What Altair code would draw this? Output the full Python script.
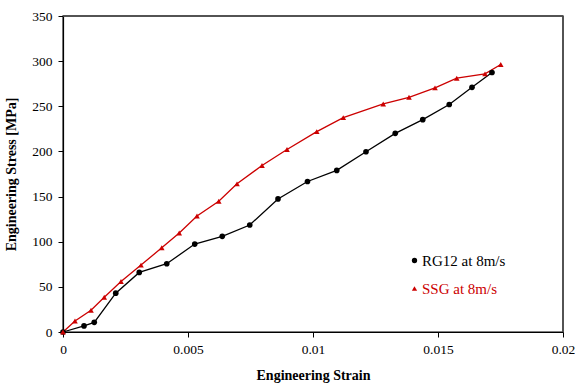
import altair as alt
import pandas as pd

rg_strain = [0, 0.00084, 0.00125, 0.00211, 0.00305, 0.00415, 0.00527, 0.00637, 0.00747,
             0.0086, 0.00978, 0.01095, 0.01212, 0.01329, 0.01439, 0.01545, 0.01636, 0.01716]
rg_stress = [0, 6.7, 10.7, 43, 66, 75.6, 97.4, 106, 118.5, 147.4, 166.7, 179, 199.6, 220,
             235.2, 252, 271, 287.4]

ssg_strain = [0, 0.00048, 0.00112, 0.00165, 0.00232, 0.00312, 0.00395, 0.00465, 0.00536,
              0.00623, 0.00696, 0.00796, 0.00896, 0.01015, 0.01121, 0.01281, 0.01384,
              0.01488, 0.01575, 0.01688, 0.01751]
ssg_stress = [0, 12.2, 24.1, 38.5, 55.9, 74.1, 93.3, 109.6, 128.5, 144.8, 164.1, 184.4,
              202.2, 221.9, 237.4, 252.6, 260, 270.4, 281.1, 285.9, 296.3]

series_names = ["RG12 at 8m/s", "SSG at 8m/s"]
series_colors = ["#000000", "#cc0000"]
series_shapes = ["circle", "triangle-up"]

x_ticks = [0, 0.005, 0.01, 0.015, 0.02]
y_ticks = [0, 50, 100, 150, 200, 250, 300, 350]
x_domain = [0, 0.02]
y_domain = [0, 350]

df_rg = pd.DataFrame({"strain": rg_strain, "stress": rg_stress, "series": series_names[0]})
df_ssg = pd.DataFrame({"strain": ssg_strain, "stress": ssg_stress, "series": series_names[1]})
df_one = pd.DataFrame({"k": [0]})

font = "Liberation Serif"
W, H = 500, 316

x = alt.X("strain:Q", scale=alt.Scale(domain=x_domain, nice=False),
          axis=alt.Axis(values=x_ticks, format="~g", title="Engineering Strain", grid=False,
                        titleFontWeight="bold", titleFontSize=14, labelFontSize=13.5,
                        titlePadding=13, labelPadding=5, labelFont=font, titleFont=font,
                        labelFlush=False))
y = alt.Y("stress:Q", scale=alt.Scale(domain=y_domain, nice=False),
          axis=alt.Axis(values=y_ticks, title="Engineering Stress [MPa]", grid=False,
                        titleFontWeight="bold", titleFontSize=14, labelFontSize=13.5,
                        titlePadding=13, labelPadding=6, labelFont=font, titleFont=font,
                        labelFlush=False))

# top and right edges of the plot frame
frame_top = alt.Chart(df_one).mark_rule(color="#444444", strokeWidth=1.5).encode(
    x=alt.value(0), x2=alt.value(W), y=alt.value(0)
)
frame_right = alt.Chart(df_one).mark_rule(color="#444444", strokeWidth=1.5).encode(
    x=alt.value(W), y=alt.value(0), y2=alt.value(H)
)


def series_layer(df, i, legend_y):
    line = alt.Chart(df).mark_line(strokeWidth=1.3, color=series_colors[i]).encode(
        x=x, y=y, order=alt.Order("strain:Q")
    )
    leg = alt.Legend(title=None, orient="none", legendX=344, legendY=legend_y,
                     labelFont=font, labelFontSize=15, symbolSize=28,
                     labelOffset=0, symbolOffset=0, padding=0,
                     labelColor=series_colors[i])
    pts = alt.Chart(df).mark_point(filled=True, opacity=1, size=32).encode(
        x=x, y=y,
        color=alt.Color("series:N",
                        scale=alt.Scale(domain=[series_names[i]], range=[series_colors[i]]),
                        legend=leg),
        shape=alt.Shape("series:N",
                        scale=alt.Scale(domain=[series_names[i]], range=[series_shapes[i]]),
                        legend=leg),
    )
    return line, pts


l1, p1 = series_layer(df_rg, 0, 237)
l2, p2 = series_layer(df_ssg, 1, 265)

chart = alt.layer(frame_top, frame_right, l1, l2, p1, p2).resolve_scale(
    color="independent", shape="independent"
).properties(
    width=W, height=H,
    autosize=alt.AutoSizeParams(type="none"),
    padding={"left": 63, "top": 16, "right": 12, "bottom": 55},
).configure(background="white").configure_axis(
    domainColor="#000000", tickColor="#000000",
    labelColor="#000000", titleColor="#000000", tickSize=5, domainWidth=1.2,
).configure_view(stroke="#555555", strokeWidth=1.5)

chart.save("out.html", embed_options={"renderer": "svg", "actions": False})
